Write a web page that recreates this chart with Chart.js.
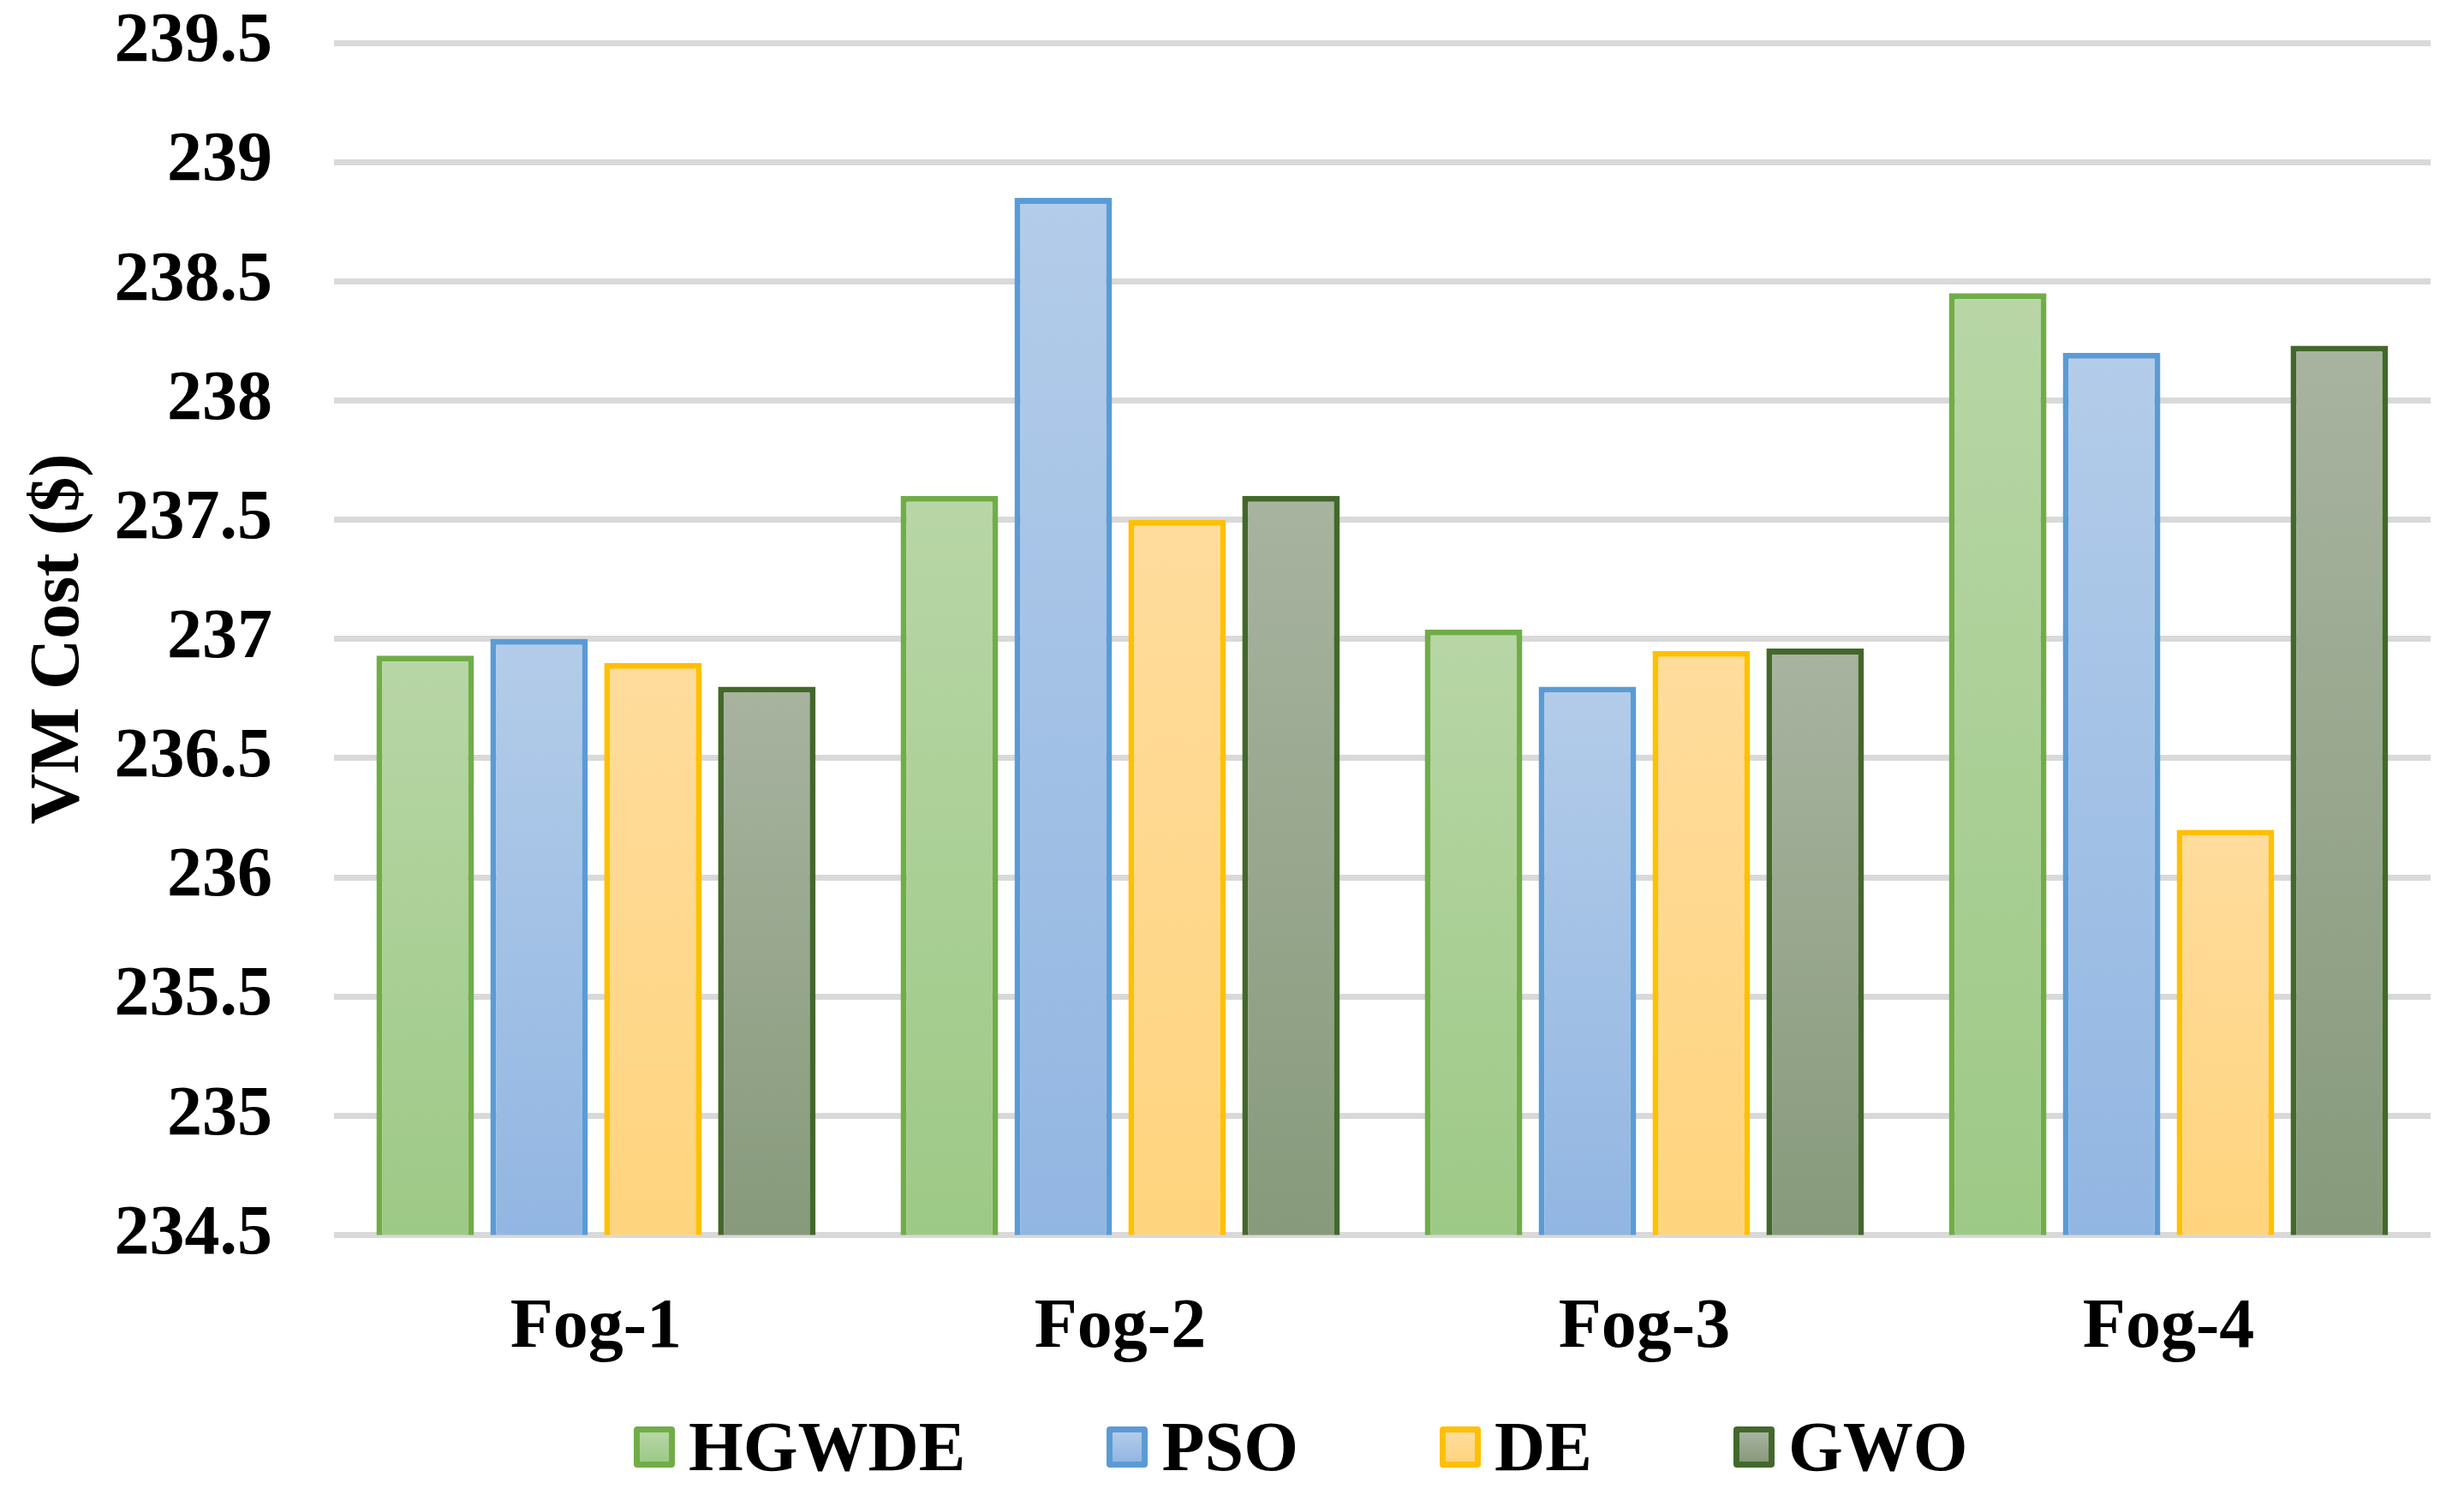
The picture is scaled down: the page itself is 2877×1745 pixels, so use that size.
<!DOCTYPE html>
<html>
<head>
<meta charset="utf-8">
<script src="https://cdn.jsdelivr.net/npm/chart.js@4"></script>
<style>
  html, body { margin: 0; padding: 0; background: #fff; }
  #wrap { position: relative; width: 2877px; height: 1745px; }
  #chartBox { position: absolute; left: 0; top: 0; width: 2877px; height: 1620px; }
  #legend {
    position: absolute; left: 740px; top: 1639px; height: 100px;
    display: flex; align-items: center; gap: 165px;
    font: bold 82px "Liberation Serif", "Times New Roman", serif; color: #000;
  }
  .item { display: flex; align-items: center; }
  .swatch { width: 34px; height: 34px; border: 7px solid; border-radius: 4px; margin-right: 16px; }
</style>
</head>
<body>
<div id="wrap">
  <div id="chartBox"><canvas id="costChart"></canvas></div>
  <div id="legend"></div>
</div>
<script>
const categories = ["Fog-1", "Fog-2", "Fog-3", "Fog-4"];
const seriesNames = ["HGWDE", "PSO", "DE", "GWO"];
const hgwdeCost = [236.93, 237.6, 237.04, 238.45];
const psoCost = [237.0, 238.85, 236.8, 238.2];
const deCost = [236.9, 237.5, 236.95, 236.2];
const gwoCost = [236.8, 237.6, 236.96, 238.23];
const yTickValues = [234.5, 235, 235.5, 236, 236.5, 237, 237.5, 238, 238.5, 239, 239.5];

const borderColors = ["#70AD47", "#5B9BD5", "#FFC000", "#43682B"];
const topColors = ["#b8d6a6", "#b3cce9", "#ffdc9d", "#a8b3a0"];
const bottomColors = ["#9dc986", "#92b6e2", "#ffd47e", "#879a7b"];

const fontFamily = '"Liberation Serif", "Times New Roman", serif';

document.addEventListener("DOMContentLoaded", () => {
  const values = [hgwdeCost, psoCost, deCost, gwoCost];

  // gradient per bar, light at its top, darker at the axis
  const barFill = (i) => (ctx) => {
    const chart = ctx.chart;
    const { chartArea, scales } = chart;
    if (!chartArea || ctx.type !== "data") return topColors[i];
    const top = scales.y.getPixelForValue(ctx.raw);
    const g = chart.ctx.createLinearGradient(0, top, 0, chartArea.bottom);
    g.addColorStop(0, topColors[i]);
    g.addColorStop(1, bottomColors[i]);
    return g;
  };

  const data = {
    labels: categories,
    datasets: seriesNames.map((name, i) => ({
      label: name,
      data: values[i],
      backgroundColor: barFill(i),
      borderColor: borderColors[i],
      borderWidth: 7,
      categoryPercentage: 0.869,
      barPercentage: 0.857,
    })),
  };

  const options = {
    responsive: true,
    maintainAspectRatio: false,
    animation: false,
    devicePixelRatio: 1,
    layout: {
      padding: { top: 50, right: 39, bottom: 20, left: 0 },
    },
    plugins: {
      legend: { display: false },
      tooltip: { enabled: false },
    },
    scales: {
      x: {
        grid: { display: false },
        border: { display: false },
        ticks: {
          color: "#000",
          padding: 52,
          font: { family: fontFamily, size: 82, weight: "bold" },
        },
        // chart.js counts the tick padding twice, take one back
        afterFit: (axis) => {
          axis.height -= axis.options.ticks.padding;
        },
      },
      y: {
        min: 234.5,
        max: 239.5,
        afterBuildTicks: (axis) => {
          axis.ticks = yTickValues.map((v) => ({ value: v }));
        },
        afterFit: (axis) => {
          const p = axis.options.ticks.padding;
          axis.width -= p;
          axis.paddingTop -= p;
          axis.paddingBottom -= p;
        },
        grid: { color: "#d9d9d9", lineWidth: 7, drawTicks: false },
        border: { display: false },
        ticks: {
          color: "#000",
          padding: 72,
          font: { family: fontFamily, size: 82, weight: "bold" },
          callback: (v) => String(v),
        },
        title: {
          display: true,
          text: "VM Cost ($)",
          color: "#000",
          padding: { top: 21, bottom: 14 },
          font: { family: fontFamily, size: 82, weight: "bold" },
        },
      },
    },
  };

  new Chart(document.getElementById("costChart").getContext("2d"), {
    type: "bar",
    data,
    options,
  });

  const legend = document.getElementById("legend");
  seriesNames.forEach((name, i) => {
    const item = document.createElement("div");
    item.className = "item";
    const sw = document.createElement("span");
    sw.className = "swatch";
    sw.style.borderColor = borderColors[i];
    sw.style.background = `linear-gradient(${topColors[i]}, ${bottomColors[i]})`;
    const txt = document.createElement("span");
    txt.textContent = name;
    item.appendChild(sw);
    item.appendChild(txt);
    legend.appendChild(item);
  });
});
</script>
</body>
</html>
